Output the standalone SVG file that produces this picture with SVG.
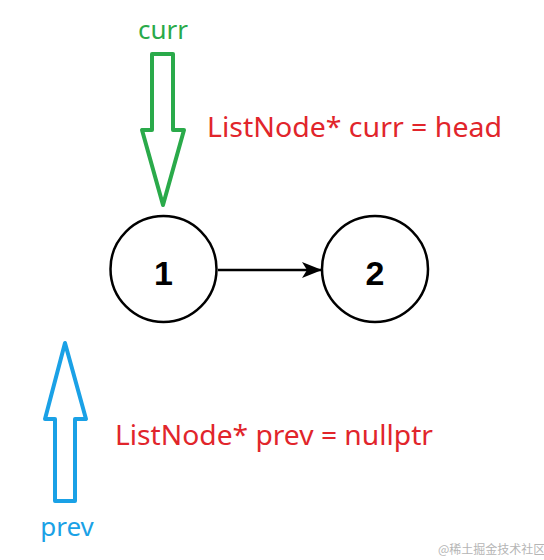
<svg xmlns="http://www.w3.org/2000/svg" width="544" height="560" viewBox="0 0 544 560">
<style>
.node{fill:#fff;stroke:#000;stroke-width:2.5}
.nlabel{font-family:"Liberation Sans",Arial,sans-serif;font-weight:bold;font-size:34px;fill:#000;text-anchor:middle}
.code{font-family:"Noto Sans","Open Sans",sans-serif;font-size:27px;fill:#e1252b}
.ptr{font-family:"Noto Sans","Open Sans",sans-serif;font-size:26px;text-anchor:middle}
.wm{font-family:"Noto Sans CJK SC",sans-serif;font-size:12px;fill:#b5b5b5}
</style>
<defs>
<marker id="ah" markerWidth="20" markerHeight="16" refX="20" refY="8" orient="auto" markerUnits="userSpaceOnUse">
<path d="M0,0 L20,8 L0,16 L5,8 Z" fill="#000"/>
</marker>
</defs>
<rect width="544" height="560" fill="#fff"/>
<g id="connectors">
<line x1="218" y1="270" x2="322" y2="270" stroke="#000" stroke-width="2.5" marker-end="url(#ah)"/>
</g>
<g id="node1">
<circle class="node" cx="163.5" cy="269" r="53"/>
<text class="nlabel" x="163.5" y="285">1</text>
</g>
<g id="node2">
<circle class="node" cx="375" cy="269" r="53"/>
<text class="nlabel" x="375" y="285">2</text>
</g>
<g id="curr-pointer">
<text class="ptr" x="163" y="39" fill="#2aaa4a">curr</text>
<path d="M152,54 L173,54 L173,130 L184,130 L163,205 L142,130 L152,130 Z" fill="none" stroke="#2aaa4a" stroke-width="4" stroke-linejoin="round"/>
</g>
<g id="prev-pointer">
<path d="M65,343 L86,419 L75,419 L75,501 L55,501 L55,419 L45,419 Z" fill="none" stroke="#1aa1e6" stroke-width="4" stroke-linejoin="round"/>
<text class="ptr" x="67" y="536" fill="#1aa1e6">prev</text>
</g>
<text class="code" x="207" y="137" textLength="295" lengthAdjust="spacingAndGlyphs">ListNode* curr = head</text>
<text class="code" x="115" y="445" textLength="318" lengthAdjust="spacingAndGlyphs">ListNode* prev = nullptr</text>
<text class="wm" x="438" y="554">@稀土掘金技术社区</text>
</svg>
